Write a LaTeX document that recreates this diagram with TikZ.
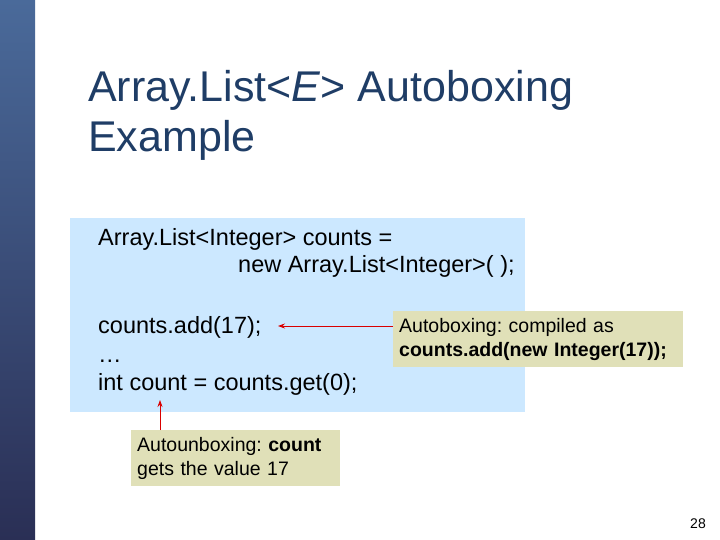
\documentclass[tikz,border=0pt]{standalone}
\usepackage{fontspec}
\setmainfont{Liberation Sans}
\frenchspacing
\definecolor{titleblue}{HTML}{1F3D66}
\definecolor{codebg}{HTML}{CCE8FF}
\definecolor{callbg}{HTML}{E0E0B8}
\definecolor{stripA}{HTML}{4A6A9A}
\definecolor{stripB}{HTML}{2A2F55}
\tikzset{x=1pt,y=-1pt,
 code/.style={anchor=base west,inner sep=0,font=\fontsize{23.5}{28}\selectfont},
 callout/.style={fill=callbg,anchor=north west,inner sep=0,align=left,font=\fontsize{19.5}{24}\selectfont},
 arr/.style={draw=red!85!black,thick,-{Stealth[length=7pt,width=5pt]}}}
\usetikzlibrary{arrows.meta}
\begin{document}
\begin{tikzpicture}
\useasboundingbox (0,0) rectangle (720,540);
\fill[white] (0,0) rectangle (720,540);
\shade[top color=stripA,bottom color=stripB] (0,0) rectangle (35,540);
\node[anchor=base west,inner sep=0,text=titleblue,font=\fontsize{43}{50}\selectfont,align=left] (title) at (88,152) {Array.List<\textit{E}> Autoboxing\\Example};
\fill[codebg] (70,218) rectangle (525,412);
\node[code] (c1) at (98,245) {Array.List<Integer> counts =};
\node[code] (c2) at (238,272) {new Array.List<Integer>( );};
\node[code] (c3) at (98,333) {counts.add(17);};
\node[code] (c4) at (98,362) {…};
\node[code] (c5) at (98,390) {int count = counts.get(0);};
\node[callout,minimum height=56pt,text width=278pt,inner xsep=6pt,inner ysep=3pt] (b1) at (393,311) {Autoboxing: compiled as\\\textbf{counts.add(new Integer(17));}};
\node[callout,minimum height=56pt,text width=197pt,inner xsep=6pt,inner ysep=3pt] (b2) at (131,430) {Autounboxing: \textbf{count}\\gets the value 17};
\coordinate (t1) at (278,326);
\coordinate (t2) at (160,400);
\draw[arr] (b1.west |- t1) -- (t1);
\draw[arr] (b2.north -| t2) -- (t2);
\node[anchor=base east,inner sep=0,font=\fontsize{14}{16}\selectfont] (pg) at (706,528) {28};
\end{tikzpicture}
\end{document}
